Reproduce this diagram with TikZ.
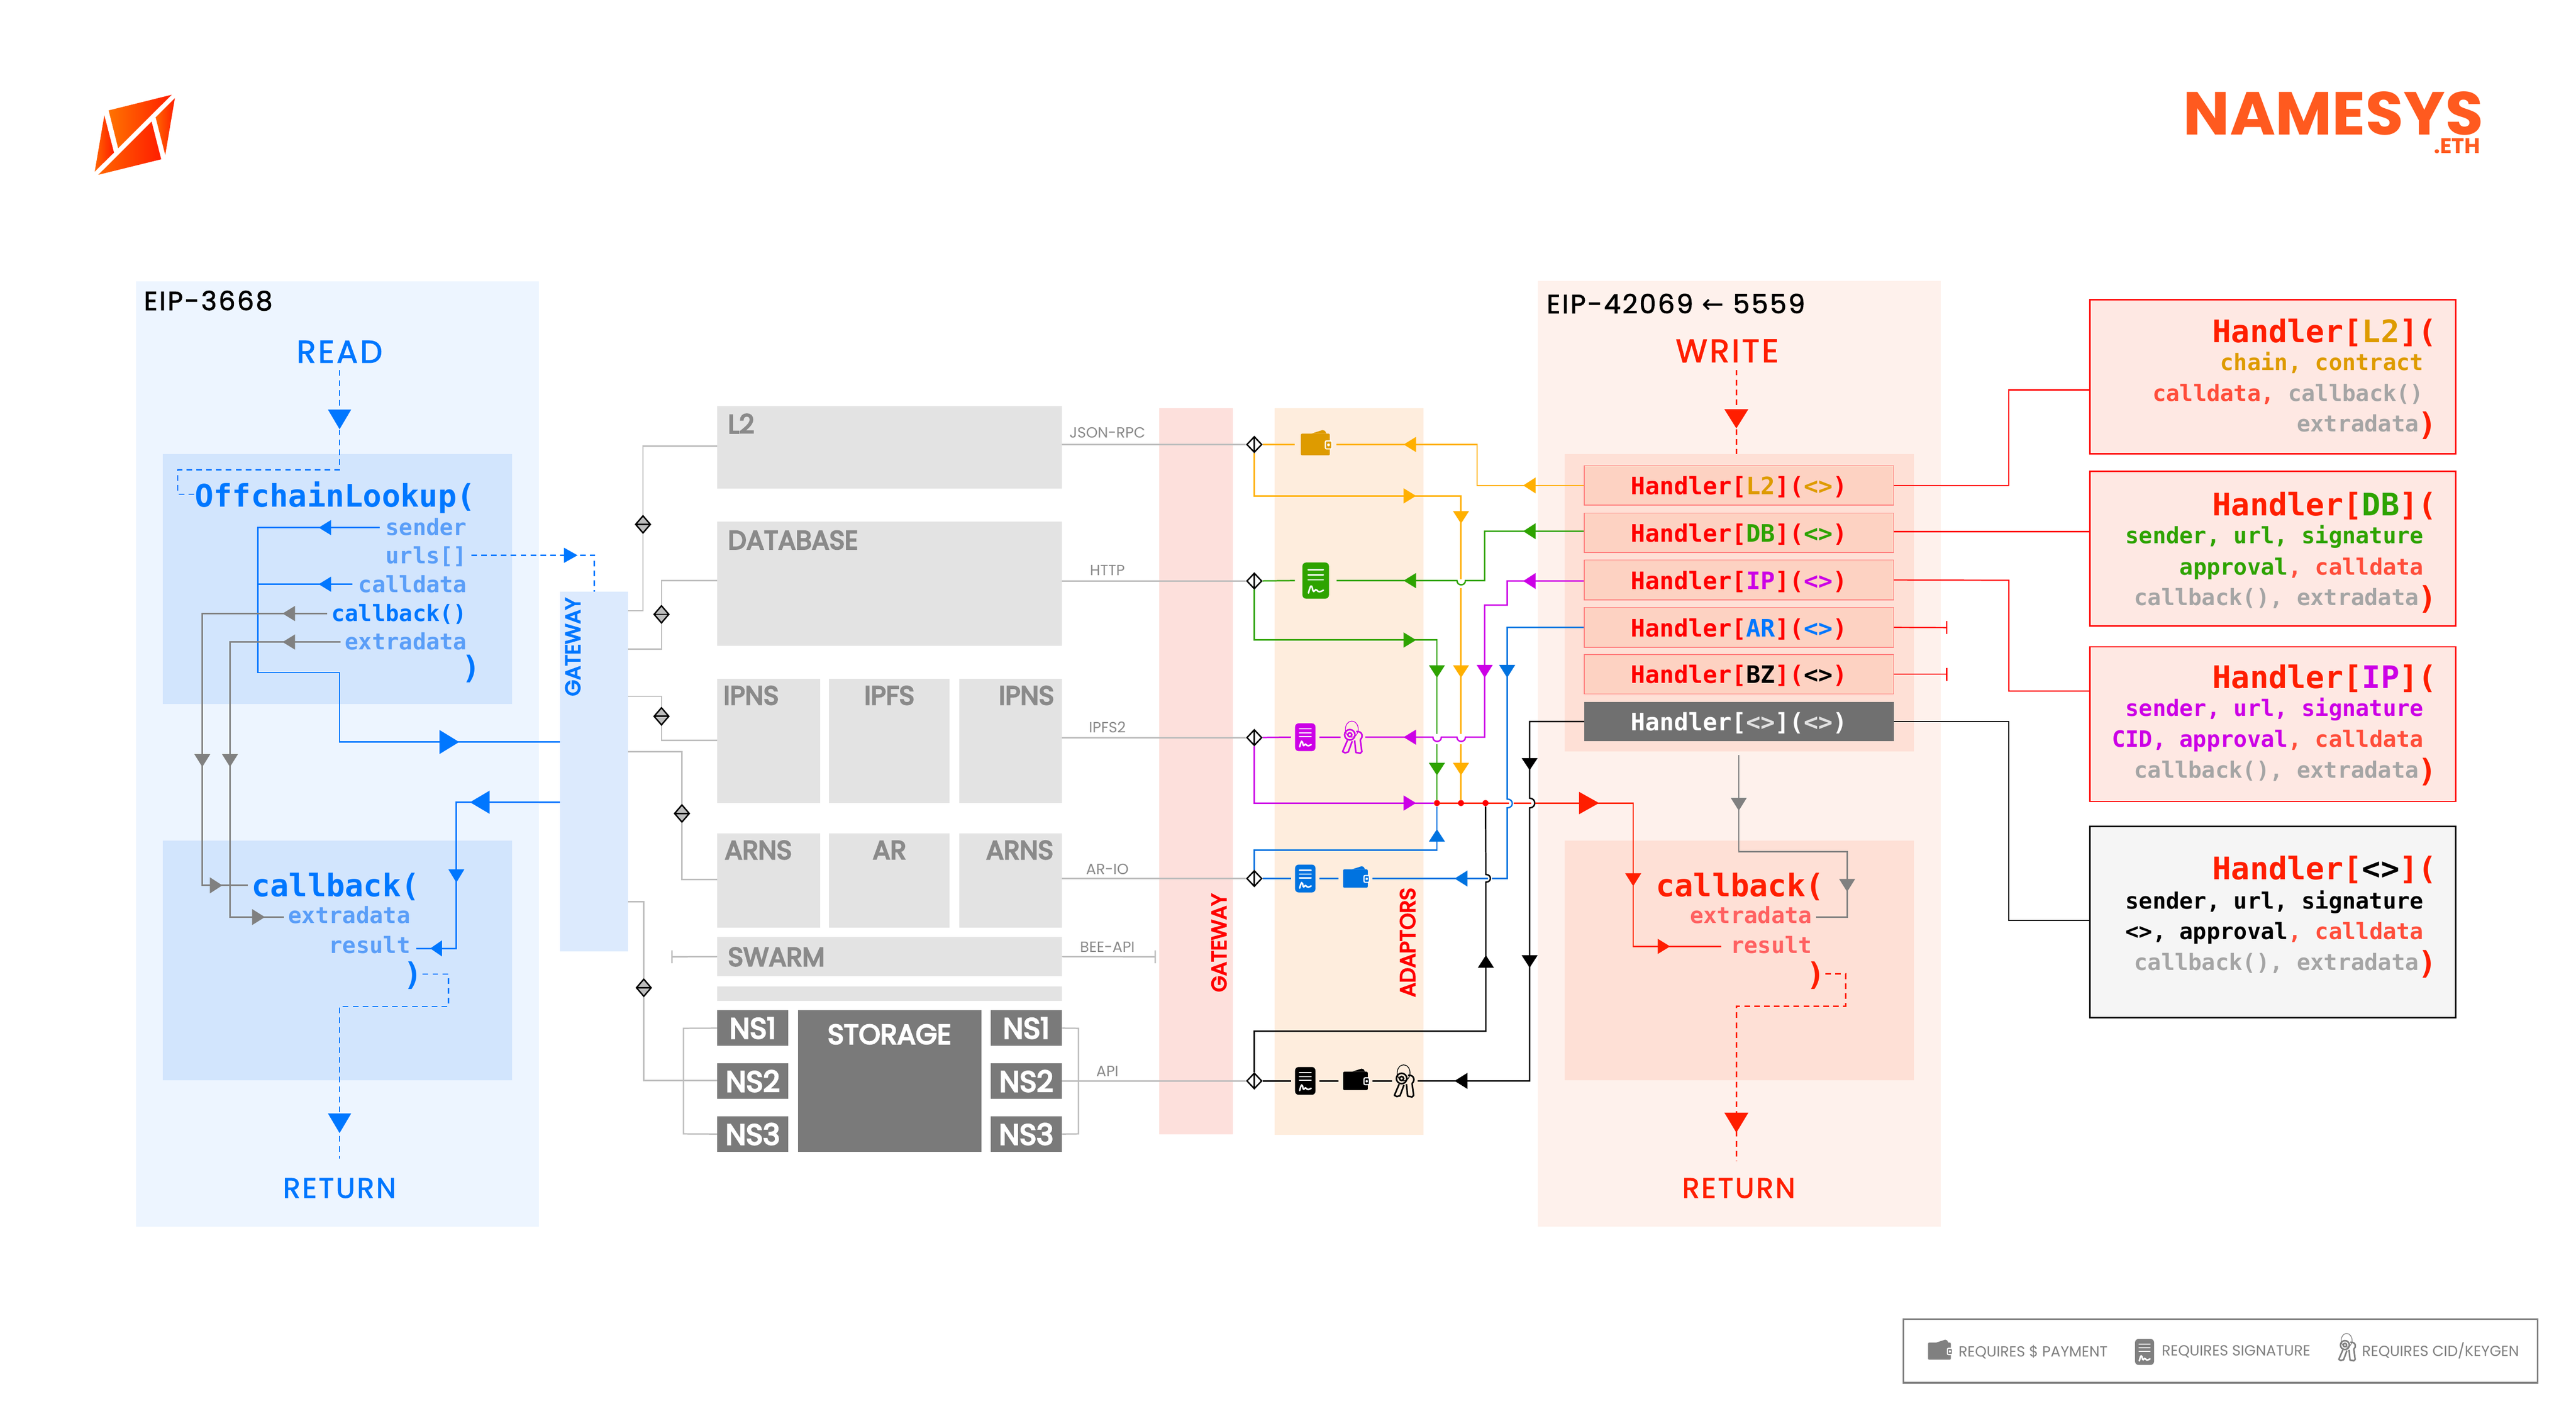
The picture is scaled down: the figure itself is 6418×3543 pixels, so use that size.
\documentclass[tikz,border=0pt]{standalone}
\usepackage{fontspec}
\setmainfont{Poppins}
\newfontfamily\codefont{DejaVu Sans Mono}
\newfontfamily\arrowfont{DejaVu Sans}
\newfontfamily\titlefont[LetterSpace=7,FakeBold=2]{Poppins}
\newfontfamily\labelfont[FakeBold=5]{Poppins}
\newfontfamily\markfont[FakeStretch=1.02]{Poppins}
\usetikzlibrary{shapes.geometric}
\pgfdeclarelayer{panels}
\pgfdeclarelayer{lines}
\pgfsetlayers{panels,lines,main}

\definecolor{cBlue}{HTML}{0077FF}
\definecolor{cBlueD}{HTML}{0073E0}
\definecolor{cBlueA}{HTML}{5A9EF8}
\definecolor{cRed}{HTML}{FF1E00}
\definecolor{cRedP}{HTML}{FF0000}
\definecolor{cRedA}{HTML}{FF6161}
\definecolor{cRedC}{HTML}{FF4D3A}
\definecolor{cOrange}{HTML}{FFB000}
\definecolor{cOrangeD}{HTML}{DE9B00}
\definecolor{cGreen}{HTML}{2EA300}
\definecolor{cMagenta}{HTML}{CC00E6}
\definecolor{cGrey}{HTML}{808080}
\definecolor{cGate}{HTML}{BDBDBD}
\definecolor{cArg}{HTML}{A5A5A5}
\definecolor{cLabel}{HTML}{8A8A8A}
\definecolor{cHandler}{HTML}{FDD2C2}
\definecolor{cArgBox}{HTML}{FEE8E3}
\definecolor{cBrand}{HTML}{FF5A1F}
\definecolor{cPanelB}{HTML}{EDF5FF}
\definecolor{cInnerB}{HTML}{D2E5FD}
\definecolor{cGateB}{HTML}{DCEAFD}
\definecolor{cGateR}{HTML}{FDE0DC}
\definecolor{cAdapt}{HTML}{FEEDDD}
\definecolor{cPanelR}{HTML}{FEF1EC}
\definecolor{cInnerR}{HTML}{FEE0D6}

\tikzset{
  rectbox/.style={anchor=north west,inner sep=0pt,outer sep=0pt},
  greybox/.style={rectbox,fill=black!11},
  nsbox/.style={rectbox,fill=black!52,text=white,font=\labelfont\fontsize{20.5}{22}\selectfont},
  handlerbox/.style={rectbox,fill=cHandler,draw=cRedA!85,line width=0.5pt,text height=0.6cm,text depth=0.14cm,font=\codefont\bfseries\fontsize{17}{18}\selectfont},
  argbox/.style={rectbox,fill=cArgBox,draw=cRedP,line width=1pt},
  boxlabel/.style={inner sep=0pt,text=cLabel,font=\labelfont\fontsize{18.5}{20}\selectfont},
  wirelabel/.style={inner sep=0pt,text=cLabel,font=\fontsize{10.5}{12}\selectfont},
  legendlabel/.style={inner sep=0pt,text=cGrey,font=\fontsize{10.4}{12}\selectfont},
  title/.style={inner sep=0pt,font=\titlefont\fontsize{18.7}{20}\selectfont},
  codehead/.style={inner sep=0pt,font=\codefont\bfseries\fontsize{22}{24}\selectfont},
  codearg/.style={inner sep=0pt,font=\codefont\bfseries\fontsize{15.95}{17}\selectfont},
  sidetext/.style={inner sep=0pt,rotate=90,font=\labelfont\fontsize{14.7}{16}\selectfont},
  iconbox/.style={inner sep=0pt,outer sep=0pt,minimum height=0.1cm},
  diah/.style={shape=diamond,draw=black,fill=cGate,line width=1pt,inner sep=0pt,minimum width=0.38cm,minimum height=0.44cm,
    path picture={\draw[line width=1pt] (path picture bounding box.west) -- (path picture bounding box.east);}},
  diav/.style={shape=diamond,draw=black,fill=white,line width=1pt,inner sep=0pt,minimum width=0.38cm,minimum height=0.40cm,
    path picture={\draw[line width=1pt] (path picture bounding box.north) -- (path picture bounding box.south);}},
  joint/.style={shape=circle,fill=cRedP,inner sep=0pt,minimum size=0.15cm},
  lBlue/.style={draw=cBlue,line width=1pt},
  lGrey/.style={draw=cGrey,line width=1pt},
  lGate/.style={draw=cGate,line width=1pt},
  dBlue/.style={draw=cBlue,line width=1pt,dash pattern=on 4pt off 3pt},
  dRed/.style={draw=cRed,line width=1pt,dash pattern=on 4pt off 3pt},
  lOrange/.style={draw=cOrange,line width=1pt},
  lGreen/.style={draw=cGreen,line width=1pt},
  lMagenta/.style={draw=cMagenta,line width=1pt},
  lBlueD/.style={draw=cBlueD,line width=1pt},
  lBlack/.style={draw=black,line width=1pt},
  lRed/.style={draw=cRed,line width=1pt},
  lThinRed/.style={draw=cRedP,line width=0.8pt},
  lThinBlack/.style={draw=black,line width=0.8pt}
}

\newcommand{\rectnode}[7][]{\node[rectbox,minimum width={(#5-#3)*0.01cm},minimum height={(#6-#4)*0.01cm},#1] (#2) at (#3,#4) {#7};}
\newcommand{\tiph}[5]{\fill[#1,line join=round] (#2,#3) -- ++(#4,-#5) -- ++(0,2*#5) -- cycle;}
\newcommand{\tipv}[5]{\fill[#1,line join=round] (#2,#3) -- ++(-#5,#4) -- ++(2*#5,0) -- cycle;}
\newcommand{\hname}[2]{\textcolor{cRedP}{Handler[}\textcolor{#1}{#2}\textcolor{cRedP}{](}\textcolor{#1}{<>}\textcolor{cRedP}{)}}
\newcommand{\bname}[2]{\textcolor{cRed}{Handler[}\textcolor{#1}{#2}\textcolor{cRed}{](}}

\newcommand{\walleticon}[6]{\node[iconbox,minimum width={#4*0.01cm}] (#1) at (#2,#3) {};
  \begin{scope}[shift={(#2,#3)},scale=#5]
    \fill[#6,rounded corners=0.03cm] (-36,-27) rectangle (36,27);
    \fill[#6] (-10,-27) -- (18,-36) -- (24,-34) -- (28,-27) -- cycle;
    \filldraw[draw=white,fill=#6,line width=0.8pt,rounded corners=0.03cm] (25,-9) rectangle (41,11);
    \fill[white] (33,1) circle (3.5);
  \end{scope}}
\newcommand{\docicon}[6]{\node[iconbox,minimum width={#4*0.01cm}] (#1) at (#2,#3) {};
  \begin{scope}[shift={(#2,#3)},scale=#5]
    \fill[#6,rounded corners=0.09cm] (-33,-45) rectangle (33,45);
    \draw[white,line width=0.9pt,line cap=round] (-19,-27) -- (19,-27) (-19,-14) -- (19,-14) (-19,-2) -- (19,-2);
    \draw[white,line width=1.1pt,line cap=round] (-18,31) .. controls (-13,10) and (-10,8) .. (-7,25) .. controls (-4,32) and (-1,18) .. (3,24) .. controls (7,30) and (12,28) .. (19,24);
  \end{scope}}
\newcommand{\keysicon}[6]{\node[iconbox,minimum width={#4*0.01cm}] (#1) at (#2,#3) {};
  \begin{scope}[shift={(#2,#3)},scale=#5,draw=#6]
    \draw[line width=0.5pt] (-3,-20) ellipse [x radius=16,y radius=20];
    \draw[line width=1.1pt] (-8,-6) circle (13) (-8,-6) circle (5);
    \draw[line width=1.1pt] (8,-14) .. controls (24,-16) and (26,0) .. (18,6);
    \draw[line width=1.1pt,line join=round] (-14,8) -- (-26,36) -- (-20,39) -- (-12,37) -- (-2,10);
    \draw[line width=1.1pt,line join=round] (4,8) -- (7,38) -- (18,40) -- (22,36) -- (18,6);
  \end{scope}}

\begin{document}
\begin{tikzpicture}[x=0.01cm,y=-0.01cm]
\useasboundingbox (0,0) rectangle (6418,3543);

\begin{pgfonlayer}{panels}
\rectnode[fill=cPanelB]{pRead}{339}{701}{1343}{3055}{}
\rectnode[fill=cInnerB]{pOffchain}{406}{1131}{1276}{1754}{}
\rectnode[fill=cInnerB]{pCallbackL}{406}{2094}{1276}{2690}{}
\rectnode[fill=cGateB]{gwL}{1395}{1474}{1565}{2369}{}
\rectnode[fill=cGateR]{pGateR}{2888}{1017}{3072}{2825}{}
\rectnode[fill=cAdapt]{pAdaptors}{3175}{1017}{3547}{2826}{}
\rectnode[fill=cPanelR]{pWrite}{3831}{700}{4835}{3055}{}
\rectnode[fill=cInnerR]{pHandlers}{3898}{1131}{4768}{1872}{}
\rectnode[fill=cInnerR]{pCallbackR}{3898}{2094}{4768}{2690}{}
\end{pgfonlayer}

\shade[left color=orange!90!red,right color=cRed] (270.7,275) -- (427.7,236) -- (294.3,369) -- cycle;
\shade[left color=orange!80!red,right color=cRed] (260,287.3) -- (284,380) -- (236,427.3) -- cycle;
\shade[left color=orange!80!red,right color=cRed] (377.7,302.7) -- (401.7,396.7) -- (245,435.3) -- cycle;
\shade[left color=orange!80!red,right color=cRed] (435.7,244.3) -- (411.7,386) -- (387.7,292.3) -- cycle;
\node[inner sep=0pt,anchor=east,text=cBrand,font=\markfont\bfseries\fontsize{43}{45}\selectfont] (tBrand) at (6188,283) {NAMESYS};
\node[inner sep=0pt,anchor=east,text=cBrand,font=\markfont\bfseries\fontsize{15}{17}\selectfont] (tEth) at (6180,363) {.ETH};

\node[title,anchor=west] (tEipL) at (358,749) {EIP-3668};
\node[title,text=cBlue,font=\titlefont\fontsize{22.4}{24}\selectfont] (nRead) at (846,876) {READ};
\node[title,text=cBlue,font=\titlefont\fontsize{20}{22}\selectfont] (nReturnL) at (846,2959) {RETURN};
\node[title,anchor=west] (tEipR) at (3853,756) {EIP-42069 {\arrowfont ←} 5559};
\node[title,text=cRed,font=\titlefont\fontsize{23}{25}\selectfont] (nWrite) at (4303,874) {WRITE};
\node[title,text=cRed,font=\titlefont\fontsize{20}{22}\selectfont] (nReturnR) at (4332,2959) {RETURN};

\node[codehead,anchor=base west,text=cBlue] (tOffchain) at (485,1262) {OffchainLookup(};
\node[codearg,anchor=base east,text=cBlueA] (tSender) at (1164,1333) {sender};
\node[codearg,anchor=base east,text=cBlueA] (tUrls) at (1164,1404) {urls[]};
\node[codearg,anchor=base east,text=cBlueA] (tCalldata) at (1164,1476) {calldata};
\node[codearg,anchor=base east,text=cBlue] (tCallback) at (1164,1547) {callback()};
\node[codearg,anchor=base east,text=cBlueA] (tExtra) at (1164,1618) {extradata};
\node[codehead,anchor=base east,text=cBlue] (tClose) at (1198,1690) {)};
\node[codehead,anchor=base west,text=cBlue] (tCallbackB) at (626,2233) {callback(};
\node[codearg,anchor=base east,text=cBlueA] (tExtraB) at (1023,2300) {extradata};
\node[codearg,anchor=base east,text=cBlueA] (tResult) at (1023,2374) {result};
\node[codehead,anchor=base east,text=cBlue] (tCloseB) at (1053,2453) {)};

\node[sidetext,text=cBlue] (tGateL) at (1427,1611) {GATEWAY};
\node[sidetext,text=cRedP] (tGateR) at (3037,2348) {GATEWAY};
\node[sidetext,text=cRedP,font=\labelfont\fontsize{15}{17}\selectfont] (tAdaptors) at (3507,2347) {ADAPTORS};

\rectnode[greybox]{bL2}{1787}{1011}{2646}{1217}{}
\rectnode[greybox]{bDB}{1787}{1299}{2646}{1608}{}
\rectnode[greybox]{bIPa}{1787}{1690}{2043}{2000}{}
\rectnode[greybox]{bIPb}{2065}{1690}{2366}{2000}{}
\rectnode[greybox]{bIPc}{2390}{1690}{2646}{2000}{}
\rectnode[greybox]{bARa}{1787}{2076}{2043}{2310}{}
\rectnode[greybox]{bARb}{2065}{2076}{2366}{2310}{}
\rectnode[greybox]{bARc}{2390}{2076}{2646}{2310}{}
\rectnode[greybox]{bSwarm}{1787}{2334}{2646}{2431}{}
\rectnode[greybox]{bBlank}{1787}{2457}{2646}{2493}{}
\rectnode[nsbox]{bStore}{1988}{2516}{2445}{2869}{}
\foreach \n/\y in {1/2516,2/2648,3/2780} {
  \rectnode[nsbox]{bNS\n a}{1787}{\y}{1964}{\y+89}{NS\n}
  \rectnode[nsbox]{bNS\n b}{2468}{\y}{2646}{\y+89}{NS\n}
}
\node[boxlabel,anchor=west] (tL2) at (1813,1055) {L2};
\node[boxlabel,anchor=west] (tDB) at (1813,1345) {DATABASE};
\node[boxlabel,anchor=west] (tIPa) at (1802,1732) {IPNS};
\node[boxlabel] (tIPb) at (2216,1732) {IPFS};
\node[boxlabel,anchor=east] (tIPc) at (2627,1732) {IPNS};
\node[boxlabel,anchor=west] (tARa) at (1805,2117) {ARNS};
\node[boxlabel] (tARb) at (2216,2117) {AR};
\node[boxlabel,anchor=east] (tARc) at (2625,2117) {ARNS};
\node[boxlabel,anchor=west] (tSwarm) at (1813,2383) {SWARM};
\node[boxlabel,text=white,font=\labelfont\fontsize{19.5}{21}\selectfont] (tStore) at (2216,2576) {STORAGE};

\node[wirelabel] (wJson) at (2759,1078) {JSON-RPC};
\node[wirelabel] (wHttp) at (2759,1420) {HTTP};
\node[wirelabel] (wIpfs) at (2759,1811) {IPFS2};
\node[wirelabel] (wArio) at (2759,2165) {AR-IO};
\node[wirelabel] (wBee) at (2759,2358) {BEE-API};
\node[wirelabel] (wApi) at (2759,2668) {API};

\node[diah] (dL2) at (1602,1306) {};
\node[diah] (dDB) at (1648,1530) {};
\node[diah] (dIP) at (1648,1784) {};
\node[diah] (dAR) at (1699,2026) {};
\node[diah] (dNS) at (1604,2460) {};
\node[diav] (dOutA) at (3125,1107) {};
\node[diav] (dOutB) at (3125,1447) {};
\node[diav] (dOutC) at (3125,1837) {};
\node[diav] (dOutD) at (3125,2188) {};
\node[diav] (dOutE) at (3125,2692) {};

\walleticon{iWalletL2}{3277}{1107}{104}{1}{cOrangeD}
\docicon{iDocDB}{3278}{1446}{104}{1}{cGreen}
\docicon{iDocIP}{3252}{1836}{71}{0.77}{cMagenta}
\keysicon{iKeysIP}{3371}{1836}{61}{1}{cMagenta}
\docicon{iDocAR}{3252}{2188}{71}{0.77}{cBlueD}
\walleticon{iWalletAR}{3377}{2188}{85}{0.85}{cBlueD}
\docicon{iDocAny}{3252}{2692}{71}{0.77}{black}
\walleticon{iWalletAny}{3377}{2692}{85}{0.85}{black}
\keysicon{iKeysAny}{3500}{2692}{64}{1}{black}

\rectnode[handlerbox]{hL2}{3947}{1160}{4718}{1258}{\hname{cOrangeD}{L2}}
\rectnode[handlerbox]{hDB}{3947}{1278}{4718}{1376}{\hname{cGreen}{DB}}
\rectnode[handlerbox]{hIP}{3947}{1395}{4718}{1494}{\hname{cMagenta}{IP}}
\rectnode[handlerbox]{hAR}{3947}{1513}{4718}{1612}{\hname{cBlue}{AR}}
\rectnode[handlerbox]{hBZ}{3947}{1630}{4718}{1728}{\hname{black}{BZ}}
\rectnode[handlerbox,fill=black!56,draw=none,text=white]{hAny}{3947}{1748}{4718}{1846}{Handler[\textcolor{black!12}{<>}](\textcolor{black!12}{<>})}

\node[codehead,anchor=base west,text=cRed] (tCallbackR) at (4125,2233) {callback(};
\node[codearg,anchor=base east,text=cRedA] (tExtraR) at (4515,2300) {extradata};
\node[codearg,anchor=base east,text=cRedA] (tResultR) at (4515,2374) {result};
\node[codehead,anchor=base east,text=cRed] (tCloseR) at (4548,2453) {)};

\rectnode[argbox]{rL2}{5207}{746}{6118}{1130}{}
\rectnode[argbox]{rDB}{5207}{1174}{6118}{1559}{}
\rectnode[argbox]{rIP}{5207}{1611}{6118}{1996}{}
\rectnode[argbox,fill=black!4,draw=black]{rAny}{5207}{2058}{6118}{2534}{}

\node[codehead,anchor=base east] (rL2a) at (6072,853) {\bname{cOrangeD}{L2}};
\node[codearg,anchor=base east,text=cOrangeD] (rL2b) at (6039,922) {chain, contract};
\node[codearg,anchor=base east,text=cArg] (rL2c) at (6039,999) {\textcolor{cRedC}{calldata,} callback()};
\node[codearg,anchor=base east,text=cArg] (rL2d) at (6027,1075) {extradata};
\node[codehead,anchor=base east,text=cRed] (rL2e) at (6072,1084) {)};

\node[codehead,anchor=base east] (rDBa) at (6072,1284) {\bname{cGreen}{DB}};
\node[codearg,anchor=base east,text=cGreen] (rDBb) at (6039,1354) {sender, url, signature};
\node[codearg,anchor=base east,text=cGreen] (rDBc) at (6039,1432) {approval\textcolor{cRedC}{, calldata}};
\node[codearg,anchor=base east,text=cArg] (rDBd) at (6027,1508) {callback(), extradata};
\node[codehead,anchor=base east,text=cRed] (rDBe) at (6072,1517) {)};

\node[codehead,anchor=base east] (rIPa) at (6072,1714) {\bname{cMagenta}{IP}};
\node[codearg,anchor=base east,text=cMagenta] (rIPb) at (6039,1783) {sender, url, signature};
\node[codearg,anchor=base east,text=cMagenta] (rIPc) at (6039,1860) {CID, approval\textcolor{cRedC}{, calldata}};
\node[codearg,anchor=base east,text=cArg] (rIPd) at (6027,1937) {callback(), extradata};
\node[codehead,anchor=base east,text=cRed] (rIPe) at (6072,1947) {)};

\node[codehead,anchor=base east] (rAnya) at (6072,2191) {\bname{black}{<>}};
\node[codearg,anchor=base east,text=black] (rAnyb) at (6039,2263) {sender, url, signature};
\node[codearg,anchor=base east,text=black] (rAnyc) at (6039,2339) {<>, approval\textcolor{cRedC}{, calldata}};
\node[codearg,anchor=base east,text=cArg] (rAnyd) at (6027,2416) {callback(), extradata};
\node[codehead,anchor=base east,text=cRed] (rAnye) at (6072,2425) {)};

\rectnode[draw=cGrey,line width=1.2pt,fill=white]{rLegend}{4742}{3285}{6322}{3444}{}
\walleticon{iLegWallet}{4832}{3365}{57}{0.79}{cGrey}
\node[legendlabel,anchor=west] (tLegA) at (4879,3367) {REQUIRES \$ PAYMENT};
\docicon{iLegDoc}{5343}{3367}{46}{0.72}{cGrey}
\node[legendlabel,anchor=west] (tLegB) at (5385,3366) {REQUIRES SIGNATURE};
\keysicon{iLegKeys}{5849}{3355}{40}{0.85}{cGrey}
\node[legendlabel,anchor=west] (tLegC) at (5884,3363) {REQUIRES CID/KEYGEN};

\node[joint] (jG) at (3580,2000) {};
\node[joint] (jO) at (3640,2000) {};
\node[joint] (jB) at (3701,2000) {};

\begin{pgfonlayer}{lines}
\draw[dBlue,shorten <=0.18cm] (nRead.south) -- (846,1170) -- (443,1170) -- (443,1231) -- (tOffchain.west |- 0,1231);
\draw[lBlue,shorten <=0.14cm] (tSender.west |- 0,1314) -- (642,1314) -- (642,1675) -- (846,1675) |- (gwL.west |- 0,1848);
\draw[lBlue,shorten <=0.14cm] (tCalldata.west |- 0,1455) -- (642,1455);
\draw[dBlue,shorten <=0.1cm] (tUrls.east |- 0,1383) -- (1481,1383) -- (gwL.north -| 1481,0);
\draw[lGrey,shorten <=0.1cm,shorten >=0.08cm] (tCallback.west |- 0,1528) -- (504,1528) |- (tCallbackB.west |- 0,2205);
\draw[lGrey,shorten <=0.1cm,shorten >=0.1cm] (tExtra.west |- 0,1599) -- (573,1599) |- (tExtraB.west |- 0,2284);
\draw[lBlue,shorten >=0.14cm] (gwL.west |- 0,1998) -- (1137,1998) |- (tResult.east |- 0,2362);
\draw[dBlue,shorten >=0.48cm] (tCloseB.east |- 0,2426) -- (1117,2426) -- (1117,2507) -- (846,2507) -- (nReturnL.north);

\draw[lGate] (gwL.east |- 0,1521) -| (dL2) |- (bL2.west |- 0,1111);
\draw[lGate] (gwL.east |- 0,1617) -| (dDB) |- (bDB.west |- 0,1446);
\draw[lGate] (gwL.east |- 0,1734) -| (dIP) |- (bIPa.west |- 0,1844);
\draw[lGate] (gwL.east |- 0,1872) -| (dAR) |- (bARa.west |- 0,2190);
\draw[lGate] (gwL.east |- 0,2246) -| (dNS) |- (bNS2a.west |- 0,2691);
\draw[lGate] (bNS1a.west) -- (1703,2561) -- (1703,2824) -- (bNS3a.west);
\draw[lGate] (bNS1b.east) -- (2687,2561) -- (2687,2824) -- (bNS3b.east);
\draw[lGate] (bSwarm.west) -- (1674,2383) ++(0,-16) -- ++(0,32);
\draw[lGate] (bSwarm.east) -- (2878,2383) ++(0,-16) -- ++(0,32);
\draw[lGate] (bL2.east |- dOutA) -- (dOutA);
\draw[lGate] (bDB.east |- dOutB) -- (dOutB);
\draw[lGate] (bIPc.east |- dOutC) -- (dOutC);
\draw[lGate] (bARc.east |- dOutD) -- (dOutD);
\draw[lGate] (bNS2b.east |- dOutE) -- (dOutE);

\draw[lOrange] (hL2.west) -| (3680,1107) -- (iWalletL2.east);
\draw[lOrange] (iWalletL2.west) -- (dOutA);
\draw[lOrange] (dOutA) |- (3640,1235) -- (3640,1443) (3640,1465) -- (3640,1828) (3640,1854) -- (jO);
\draw[lGreen] (hDB.west |- 0,1323) -| (3699,1446) -- (3651,1446) .. controls (3651,1460) and (3630,1460) .. (3630,1446) -- (iDocDB.east);
\draw[lGreen] (iDocDB.west) -- (dOutB);
\draw[lGreen] (dOutB) |- (3580,1594) -- (3580,1828) (3580,1854) -- (jG);
\draw[lMagenta] (hIP.west |- 0,1447) -| (3755,1507) -- (3699,1507) -- (3699,1836) -- (3651,1836) .. controls (3651,1850) and (3630,1850) .. (3630,1836) -- (3591,1836) .. controls (3591,1850) and (3570,1850) .. (3570,1836) -- (iKeysIP.east);
\draw[lMagenta] (iKeysIP.west) -- (iDocIP.east);
\draw[lMagenta] (iDocIP.west) -- (dOutC);
\draw[lMagenta] (dOutC) |- (jG.west);
\draw[lBlueD] (hAR.west) -| (3755,1990) .. controls (3772,1990) and (3772,2012) .. (3755,2012) -- (3755,2188) -- (3717,2188) (3707,2188) -- (iWalletAR.east);
\draw[lBlueD] (iWalletAR.west) -- (iDocAR.east);
\draw[lBlueD] (iDocAR.west) -- (dOutD);
\draw[lBlueD] (dOutD) |- (3580,2117) -- (jG);
\draw[lBlack] (hAny.west) -| (3811,1988) .. controls (3828,1988) and (3828,2012) .. (3811,2012) -- (3811,2692) -- (iKeysAny.east);
\draw[lBlack] (iKeysAny.west) -- (iWalletAny.east);
\draw[lBlack] (iWalletAny.west) -- (iDocAny.east);
\draw[lBlack] (iDocAny.west) -- (dOutE);
\draw[lBlack] (dOutE) |- (3702,2568) -- (3702,2197) .. controls (3717,2197) and (3717,2178) .. (3702,2178) -- (jB);
\draw[lRed] (jG) -- (3760,2000) (3771,2000) -- (3815,2000);
\draw[lRed,shorten >=0.23cm] (3825,2000) -- (4069,2000) |- (tResultR.west |- 0,2357);
\draw[lGrey,shorten <=0.08cm,shorten >=0.1cm] (pHandlers.south -| 4332,0) |- (4602,2121) -- (4602,2284) -- (tExtraR.east |- 0,2284);
\draw[dRed,shorten <=0.18cm] (nWrite.south -| 4326,0) -- (pHandlers.north -| 4326,0);
\draw[dRed,shorten >=0.42cm] (tCloseR.east |- 0,2425) -- (4598,2425) -- (4598,2506) -- (4326,2506) -- (nReturnR.north -| 4326,0);

\draw[lThinRed] (hL2.east) -- (5005,1209) |- (rL2.west |- 0,971);
\draw[lThinRed] (hDB.east |- 0,1324) -- (rDB.west |- 0,1324);
\draw[lThinRed] (hIP.east) -- (5005,1445) |- (rIP.west |- 0,1721);
\draw[lThinRed] (hAR.east) -- (4850,1563) ++(0,-16) -- ++(0,32);
\draw[lThinRed] (hBZ.east) -- (4850,1679) ++(0,-16) -- ++(0,32);
\draw[lThinBlack] (hAny.east) -- (5005,1797) |- (rAny.west |- 0,2292);
\end{pgfonlayer}

\tipv{cBlue}{846}{1069}{-49}{29}
\tiph{cBlue}{794}{1314}{31}{19}
\tiph{cBlue}{794}{1455}{31}{19}
\tiph{cBlue}{1439}{1383}{-34}{19}
\tiph{cGrey}{704}{1528}{31}{19}
\tiph{cGrey}{704}{1599}{31}{19}
\tipv{cGrey}{504}{1910}{-32}{20}
\tipv{cGrey}{573}{1910}{-32}{20}
\tiph{cGrey}{554}{2205}{-31}{20}
\tiph{cGrey}{660}{2284}{-32}{20}
\tiph{cBlue}{1144}{1848}{-49}{30}
\tiph{cBlue}{1171}{1998}{49}{29}
\tipv{cBlue}{1137}{2198}{-33}{20}
\tiph{cBlue}{1072}{2362}{29}{20}
\tipv{cBlue}{846}{2822}{-49}{29}

\tiph{cOrange}{3497}{1107}{31}{19}
\tiph{cOrange}{3795}{1209}{31}{20}
\tiph{cOrange}{3528}{1235}{-31}{19}
\foreach \y in {1304,1688,1931} {\tipv{cOrange}{3640}{\y}{-31}{20}}
\tiph{cGreen}{3795}{1323}{31}{20}
\tiph{cGreen}{3497}{1446}{31}{19}
\tiph{cGreen}{3528}{1594}{-31}{19}
\foreach \y in {1688,1931} {\tipv{cGreen}{3580}{\y}{-31}{20}}
\tiph{cMagenta}{3795}{1447}{31}{20}
\tipv{cMagenta}{3699}{1688}{-32}{20}
\tiph{cMagenta}{3497}{1836}{31}{19}
\tiph{cMagenta}{3528}{2000}{-31}{19}
\tipv{cBlueD}{3755}{1688}{-32}{20}
\tiph{cBlueD}{3624}{2188}{32}{20}
\tipv{cBlueD}{3580}{2065}{31}{20}
\tipv{black}{3811}{1918}{-30}{20}
\tipv{black}{3811}{2410}{-31}{20}
\tipv{black}{3702}{2379}{31}{20}
\tiph{black}{3624}{2692}{32}{20}
\tiph{cRed}{3984}{2000}{-50}{28}
\tipv{cRed}{4069}{2207}{-32}{20}
\tiph{cRed}{4161}{2357}{-31}{19}
\tipv{cRed}{4326}{1067}{-48}{30}
\tipv{cRed}{4326}{2821}{-50}{30}
\tipv{cGrey}{4332}{2019}{-32}{20}
\tipv{cGrey}{4602}{2221}{-32}{20}
\end{tikzpicture}
\end{document}
